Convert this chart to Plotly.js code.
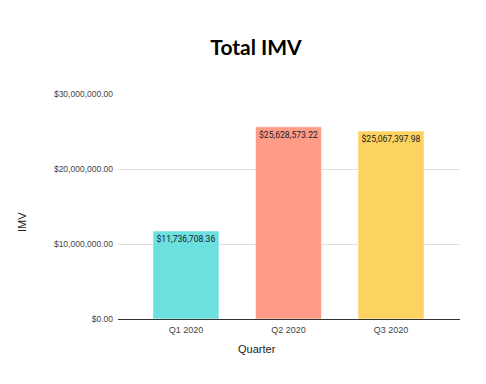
<!DOCTYPE html>
<html>
<head>
<meta charset="utf-8">
<script src="https://cdn.plot.ly/plotly-3.0.1.min.js"></script>
<style>html,body{margin:0;padding:0;background:#fff;}#chart{width:486px;height:384px;}</style>
</head>
<body>
<div id="chart"></div>
<script>
var quarters = ["Q1 2020", "Q2 2020", "Q3 2020"];
var imv = [11736708.36, 25628573.22, 25067397.98];
var labels = ["$11,736,708.36", "$25,628,573.22", "$25,067,397.98"];
var barColors = ["#6be0df", "#ff9c88", "#fcd360"];
var yTicks = [0, 10000000, 20000000, 30000000];
var yTickText = ["$0.00", "$10,000,000.00", "$20,000,000.00", "$30,000,000.00"];

var trace = {
  type: "bar",
  x: quarters,
  y: imv,
  text: labels,
  textposition: "inside",
  insidetextanchor: "end",
  textangle: 0,
  constraintext: "none",
  textfont: {family: "Roboto, Arial, sans-serif", size: 8.6, color: "#222"},
  marker: {color: barColors, line: {color: "rgba(255,255,255,0.6)", width: 1}},
  width: 0.645,
  hoverinfo: "none"
};

var layout = {
  width: 486, height: 384,
  margin: {l: 118, r: 26, t: 94, b: 65},
  paper_bgcolor: "#fff", plot_bgcolor: "#fff",
  showlegend: false,
  title: {text: "<b>Total IMV</b>", x: 256/486, xref: "container", xanchor: "center", y: 1-48/384, yref: "container", yanchor: "middle",
          font: {family: "Lato, Inter, sans-serif", size: 21, color: "#000"}},
  xaxis: {
    type: "category",
    range: [-0.663, 2.673],
    showline: true, linecolor: "#333", linewidth: 1,
    showgrid: false, ticks: "",
    tickfont: {family: "Liberation Sans, Arial, sans-serif", size: 9, color: "#444"},
    ticklabelstandoff: 2
  },
  yaxis: {
    range: [0, 30000000],
    tickvals: yTicks, ticktext: yTickText,
    showgrid: true, gridcolor: "#dedede", gridwidth: 1,
    zeroline: false, showline: false, ticks: "",
    tickfont: {family: "Liberation Sans, Arial, sans-serif", size: 8.5, color: "#444"},
    ticklabelstandoff: 4
  },
  annotations: [
    {text: "Quarter", xref: "paper", yref: "paper", x: (257-118)/342, y: -(349-319)/225, xanchor: "center", yanchor: "middle", showarrow: false,
     font: {family: "Liberation Sans, Arial, sans-serif", size: 11, color: "#222"}},
    {text: "IMV", xref: "paper", yref: "paper", x: (22-118)/342, y: (319-222)/225, xanchor: "center", yanchor: "middle", textangle: -90, showarrow: false,
     font: {family: "Liberation Sans, Arial, sans-serif", size: 11, color: "#222"}}
  ]
};

Plotly.newPlot("chart", [trace], layout, {staticPlot: true, displayModeBar: false});
</script>
</body>
</html>
